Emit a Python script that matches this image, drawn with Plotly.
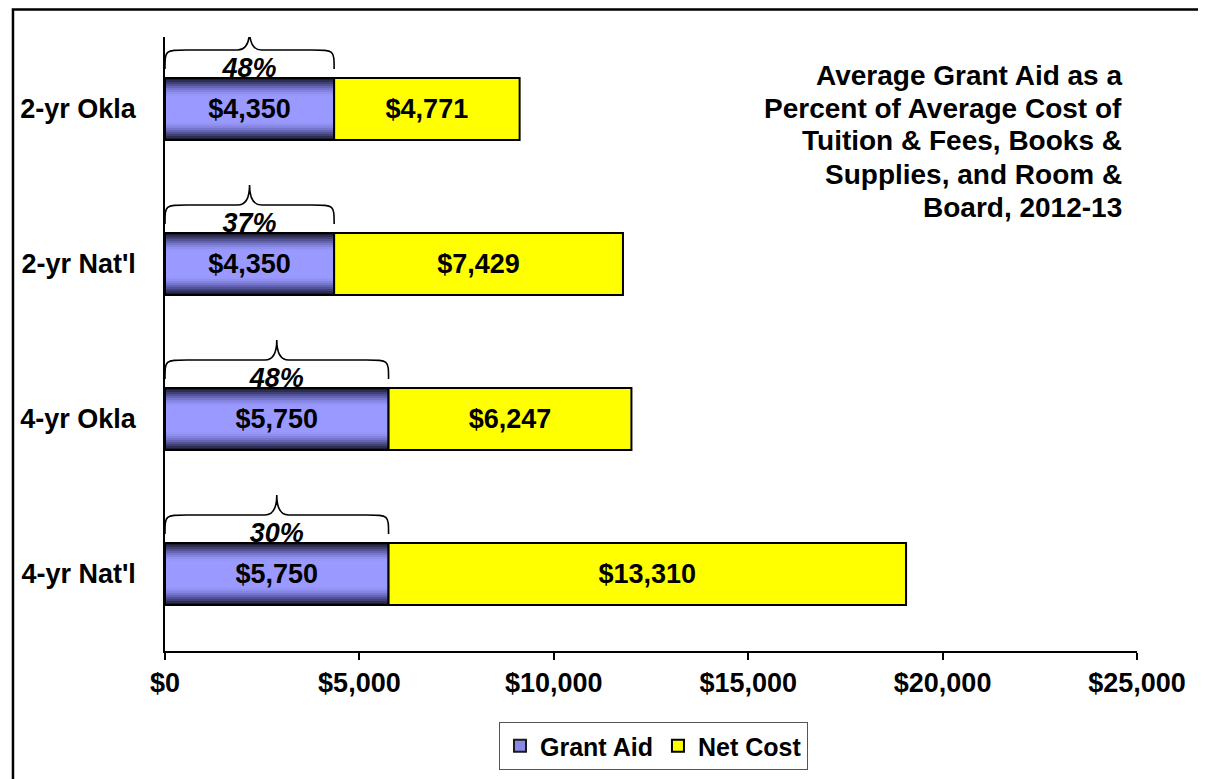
import plotly.graph_objects as go

# data
categories = ["2-yr Okla", "2-yr Nat'l", "4-yr Okla", "4-yr Nat'l"]
grant_aid = [4350, 4350, 5750, 5750]
net_cost = [4771, 7429, 6247, 13310]
pct_labels = ["48%", "37%", "48%", "30%"]
x_ticks = [0, 5000, 10000, 15000, 20000, 25000]
title_lines = ["Average Grant Aid as a", "Percent of Average Cost of",
               "Tuition & Fees, Books &", "Supplies, and Room &", "Board, 2012-13"]

W, H = 1206, 779
OFF = 8  # page body margin: the figure starts 8px in from the window corner
# plot area in window pixels: x 162..1137, y 37..651
ML, MT = 162 - OFF, 37 - OFF
MR, MB = W - (1137 - OFF), H - (651 - OFF)
PW, PH = W - ML - MR, H - MT - MB
FONT = "Arial, 'Liberation Sans', sans-serif"
Y_RANGE = [3.497, -0.4645]   # reversed so first category is on top
BAR_W = 0.40
PX_PER_CAT = PH / (Y_RANGE[0] - Y_RANGE[1])
PX_PER_DOLLAR = PW / 25000.0


def px_x(px):
    # window pixel -> paper fraction
    return (px - OFF - ML) / PW


def px_y(px):
    return (H - MB - (px - OFF)) / PH


fig = go.Figure()

# legend carrier for grant aid (covered by the gradient layers below)
fig.add_trace(go.Bar(
    y=categories, x=grant_aid, orientation="h", width=BAR_W, yaxis="y2",
    name="Grant Aid", marker=dict(color="#8a8ae6", line=dict(color="#1a1a1a", width=2)),
    hoverinfo="skip"))

# fake vertical gradient: stack narrower bars with lighter colours
grad_colors = ["#1c1c33", "#2e2e55", "#404075", "#525296", "#6464b3",
               "#7575cc", "#8484e0", "#8f8fef", "#9797fa", "#9999ff"]
step = 4 / PX_PER_CAT
for i, col in enumerate(grad_colors):
    fig.add_trace(go.Bar(
        y=categories, x=grant_aid, orientation="h", width=BAR_W - i * step,
        yaxis="y2", marker=dict(color=col, line=dict(width=0)),
        showlegend=False, hoverinfo="skip"))

# outline + value labels for grant aid
fig.add_trace(go.Bar(
    y=categories, x=grant_aid, orientation="h", width=BAR_W, yaxis="y2",
    marker=dict(color="rgba(0,0,0,0)", line=dict(color="black", width=2)),
    text=[f"${v:,}" for v in grant_aid], textposition="inside",
    insidetextanchor="middle", constraintext="none",
    textfont=dict(family=FONT, size=27, color="black", weight="bold"),
    showlegend=False, hoverinfo="skip"))

fig.add_trace(go.Bar(
    y=categories, x=net_cost, base=grant_aid, orientation="h", width=BAR_W,
    yaxis="y2", name="Net Cost",
    marker=dict(color="#ffff00", line=dict(color="black", width=2)),
    text=[f"${v:,}" for v in net_cost], textposition="inside",
    insidetextanchor="middle", constraintext="none",
    textfont=dict(family=FONT, size=27, color="black", weight="bold"),
    hoverinfo="skip"))

# percent labels sit on the lower (hidden) y axis so the bars overlap them
fig.add_trace(go.Scatter(
    x=[g / 2 for g in grant_aid],
    y=[i - 39 / PX_PER_CAT for i in range(len(categories))],
    mode="text", text=pct_labels, textposition="middle center",
    textfont=dict(family=FONT, size=27, color="black", weight="bold", style="italic"),
    yaxis="y", showlegend=False, hoverinfo="skip"))

# curly braces over the grant aid part
shapes = []
c = 22 / PX_PER_DOLLAR
t = 12 / PX_PER_DOLLAR
for i, g in enumerate(grant_aid):
    yb = i - 40 / PX_PER_CAT
    ym = i - 59 / PX_PER_CAT
    yt = i - 79 / PX_PER_CAT
    x0, x1, xm = 0, g, g / 2
    path = (f"M {x0},{yb} C {x0},{ym} {x0},{ym} {x0 + c},{ym} L {xm - t},{ym} "
            f"Q {xm},{ym} {xm},{yt} Q {xm},{ym} {xm + t},{ym} "
            f"L {x1 - c},{ym} C {x1},{ym} {x1},{ym} {x1},{yb}")
    shapes.append(dict(type="path", path=path, xref="x", yref="y",
                       line=dict(color="black", width=1.6)))

# outer chart frame (left and top edges visible, rest runs off the page)
shapes.append(dict(type="rect", xref="paper", yref="paper",
                   x0=px_x(9.5), x1=px_x(1225), y0=px_y(800), y1=px_y(9.5),
                   line=dict(color="black", width=2.5), layer="below"))

# title, one annotation per line to keep the tight line pitch
annotations = []
for k, line in enumerate(title_lines):
    annotations.append(dict(
        text=line, xref="paper", yref="paper", x=px_x(1124), y=px_y(75 + 33 * k),
        xanchor="right", yanchor="middle", align="right", showarrow=False,
        font=dict(family=FONT, size=28, color="black", weight="bold")))

fig.update_layout(
    width=W, height=H,
    margin=dict(l=ML, r=MR, t=MT, b=MB),
    paper_bgcolor="white", plot_bgcolor="white",
    barmode="overlay",
    font=dict(family=FONT, color="black"),
    shapes=shapes,
    annotations=annotations,
    xaxis=dict(range=[0, 25000], tickvals=x_ticks,
               ticktext=[f"${v:,}" for v in x_ticks],
               showgrid=False, zeroline=False, showline=True, linecolor="black",
               linewidth=1.5, ticks="outside", ticklen=7, tickwidth=1.5,
               tickcolor="black",
               tickfont=dict(family=FONT, size=27, color="black", weight="bold")),
    yaxis=dict(type="linear", range=Y_RANGE, visible=False),
    yaxis2=dict(type="category", categoryarray=categories, categoryorder="array",
                range=Y_RANGE, overlaying="y", side="left", anchor="x",
                showgrid=False, zeroline=False, showline=True, linecolor="black",
                linewidth=1.5, ticks="", ticklabelstandoff=22,
                tickfont=dict(family=FONT, size=27, color="black", weight="bold")),
    legend=dict(orientation="h", x=px_x(652), y=px_y(746), xanchor="center",
                yanchor="middle", bgcolor="white", bordercolor="#555555",
                borderwidth=1, traceorder="normal",
                font=dict(family=FONT, size=25, color="black", weight="bold")),
)

fig.write_html("out.html")
